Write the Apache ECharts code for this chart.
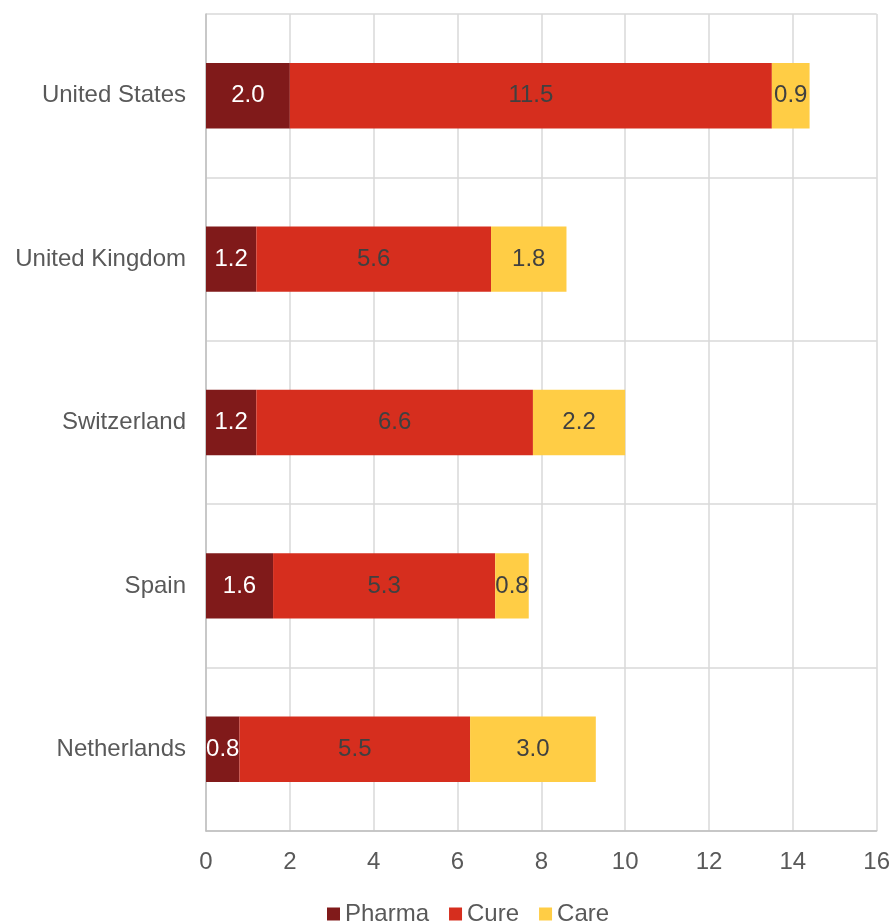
<!DOCTYPE html>
<html>
<head>
<meta charset="utf-8">
<script src="https://cdn.jsdelivr.net/npm/echarts@6/dist/echarts.min.js"></script>
<style>
  html, body { margin: 0; padding: 0; background: #fff; }
  #chart { width: 893px; height: 922px; }
</style>
</head>
<body>
<div id="chart"></div>
<script>
// Countries, top to bottom
const countries = ['United States', 'United Kingdom', 'Switzerland', 'Spain', 'Netherlands'];
// Spending components per country
const pharma = [2.0, 1.2, 1.2, 1.6, 0.8];
const cure = [11.5, 5.6, 6.6, 5.3, 5.5];
const care = [0.9, 1.8, 2.2, 0.8, 3.0];
const seriesNames = ['Pharma', 'Cure', 'Care'];
const seriesColors = ['#801A1A', '#D62E1E', '#FFCD45'];
const labelColors = ['#FFFFFF', '#404040', '#404040'];

const font = "'Liberation Sans', Arial, sans-serif";

const chart = echarts.init(document.getElementById('chart'));

const makeSeries = (name, data, i) => ({
  name: name,
  type: 'bar',
  stack: 'total',
  barWidth: '40%',
  data: data,
  itemStyle: { color: seriesColors[i] },
  label: {
    show: true,
    position: 'inside',
    color: labelColors[i],
    fontFamily: font,
    fontSize: 24,
    formatter: p => p.value.toFixed(1)
  },
  emphasis: { disabled: true }
});

chart.setOption({
  animation: false,
  grid: { left: 206, right: 12, top: 14, bottom: 91, containLabel: false },
  legend: {
    data: seriesNames,
    left: 322,
    top: 897,
    icon: 'rect',
    itemWidth: 13,
    itemHeight: 13,
    itemGap: 20,
    textStyle: { fontFamily: font, fontSize: 24, color: '#595959' }
  },
  xAxis: {
    type: 'value',
    min: 0,
    max: 16,
    interval: 2,
    axisLine: { show: true, lineStyle: { color: '#BFBFBF', width: 1.5 } },
    axisTick: { show: false },
    splitLine: { show: true, lineStyle: { color: '#D9D9D9', width: 1.5 } },
    axisLabel: { fontFamily: font, fontSize: 24, color: '#595959', margin: 19 }
  },
  yAxis: {
    type: 'category',
    inverse: true,
    data: countries,
    axisLine: { show: true, lineStyle: { color: '#BFBFBF', width: 1.5 } },
    axisTick: { show: false },
    splitLine: { show: true, lineStyle: { color: '#D9D9D9', width: 1.5 } },
    axisLabel: { fontFamily: font, fontSize: 24, color: '#595959', margin: 20 }
  },
  series: [
    makeSeries(seriesNames[0], pharma, 0),
    makeSeries(seriesNames[1], cure, 1),
    makeSeries(seriesNames[2], care, 2)
  ]
});
</script>
</body>
</html>
